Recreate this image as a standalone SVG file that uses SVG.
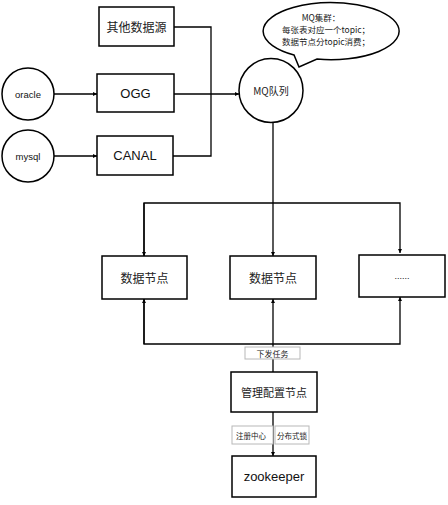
<svg xmlns="http://www.w3.org/2000/svg" width="448" height="505" viewBox="0 0 448 505">
<defs>
<style>
.box{fill:#fff;stroke:#000;stroke-width:1.5}
.lbl{fill:#fff;stroke:#b8b8b8;stroke-width:1}
.ln{fill:none;stroke:#000;stroke-width:1.3}
.t{font-family:"Liberation Sans","Noto Sans CJK SC",sans-serif;fill:#111;text-anchor:middle;dominant-baseline:central}
.cn{font-family:"Noto Sans CJK SC","Liberation Sans",sans-serif;fill:#222;text-anchor:middle;dominant-baseline:central}
</style>
<marker id="ah" viewBox="0 0 6 6" refX="6" refY="3" markerWidth="4" markerHeight="4" orient="auto" markerUnits="userSpaceOnUse">
<path d="M0,0 L6,3 L0,6 Z" fill="#000"/>
</marker>
</defs>
<rect width="448" height="505" fill="#fff"/>

<g id="connectors">
<line class="ln" x1="54" y1="94" x2="97" y2="94" marker-end="url(#ah)"/>
<line class="ln" x1="54" y1="156" x2="97" y2="156" marker-end="url(#ah)"/>
<polyline class="ln" points="174,27 211,27 211,156 173,156"/>
<line class="ln" x1="174" y1="94" x2="239" y2="94" marker-end="url(#ah)"/>
<line class="ln" x1="273" y1="122" x2="273" y2="256" marker-end="url(#ah)"/>
<polyline class="ln" points="144,256 144,203 400,203 400,253" marker-end="url(#ah)"/>
<line class="ln" x1="144" y1="203" x2="144" y2="256" marker-end="url(#ah)"/>
<polyline class="ln" points="144,299 144,344 400,344 400,297" marker-end="url(#ah)"/>
<line class="ln" x1="144" y1="344" x2="144" y2="299" marker-end="url(#ah)"/>
<line class="ln" x1="273" y1="344" x2="273" y2="299" marker-end="url(#ah)"/>
<line class="ln" x1="273" y1="344" x2="273" y2="372"/>
<line class="ln" x1="273" y1="412" x2="273" y2="456" marker-end="url(#ah)" stroke-width="1.6"/>
</g>

<g id="label-xiafa">
<rect class="lbl" x="245" y="347" width="55" height="12"/>
<text class="cn" x="272.5" y="353" font-size="8">下发任务</text>
</g>
<g id="label-zhuce">
<rect class="lbl" x="232" y="426" width="41" height="18"/>
<text class="cn" x="251" y="435" font-size="7.5">注册中心</text>
</g>
<g id="label-fenbu">
<rect class="lbl" x="275" y="426" width="34" height="18"/>
<text class="cn" x="292" y="435" font-size="7.5">分布式锁</text>
</g>

<g id="node-other">
<rect class="box" x="99" y="7" width="75" height="39"/>
<text class="cn" x="136.5" y="26.5" font-size="12">其他数据源</text>
</g>
<g id="node-oracle">
<circle class="box" cx="28" cy="94" r="26"/>
<text class="t" x="28" y="94" font-size="9.5">oracle</text>
</g>
<g id="node-mysql">
<circle class="box" cx="28" cy="156" r="26"/>
<text class="t" x="28" y="156" font-size="9.5">mysql</text>
</g>
<g id="node-ogg">
<rect class="box" x="97" y="74" width="77" height="38"/>
<text class="t" x="135.5" y="93" font-size="13">OGG</text>
</g>
<g id="node-canal">
<rect class="box" x="97" y="136" width="76" height="39"/>
<text class="t" x="135" y="155.5" font-size="13">CANAL</text>
</g>
<g id="node-mq">
<circle class="box" cx="271" cy="90.5" r="32"/>
<text class="cn" x="271" y="90" font-size="10">MQ队列</text>
</g>
<g id="node-bubble">
<path class="box" d="M294,55 A68,28.5 0 1 1 317,59 L299,67 Z" stroke-linejoin="miter"/>
<text class="cn" x="321" y="17" font-size="8.5">MQ集群：</text>
<text class="cn" x="326" y="29" font-size="8.5">每张表对应一个topic；</text>
<text class="cn" x="326" y="40.5" font-size="8.5">数据节点分topic消费；</text>
</g>
<g id="node-data1">
<rect class="box" x="102" y="256" width="85" height="43"/>
<text class="cn" x="144.5" y="277.5" font-size="12">数据节点</text>
</g>
<g id="node-data2">
<rect class="box" x="230" y="256" width="86" height="43"/>
<text class="cn" x="273" y="277.5" font-size="12">数据节点</text>
</g>
<g id="node-data3">
<rect class="box" x="359" y="255" width="86" height="42"/>
<text class="t" x="402" y="276" font-size="9">......</text>
</g>
<g id="node-manage">
<rect class="box" x="231" y="372" width="86" height="40"/>
<text class="cn" x="274" y="392" font-size="11">管理配置节点</text>
</g>
<g id="node-zk">
<rect class="box" x="232" y="456" width="84" height="41"/>
<text class="t" x="274" y="476" font-size="13">zookeeper</text>
</g>
</svg>
